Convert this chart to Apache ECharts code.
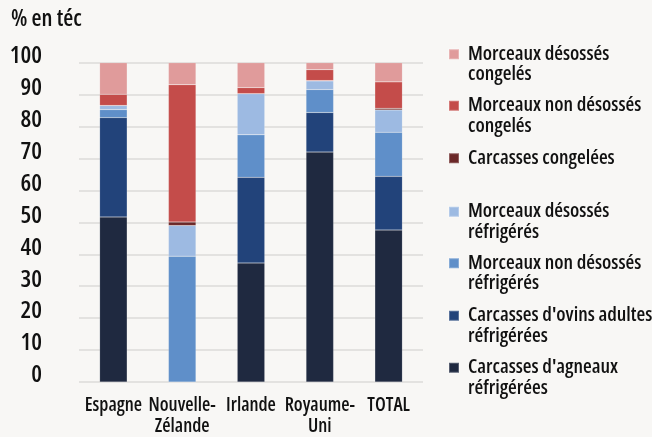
<!DOCTYPE html>
<html><head><meta charset="utf-8">
<script src="https://cdn.jsdelivr.net/npm/echarts@6/dist/echarts.min.js"></script>
<style>html,body{margin:0;padding:0;background:#f8f7f5}#c{width:652px;height:437px}</style>
</head><body><div id="c"></div>
<script>
const categories = ['Espagne', 'Nouvelle-\nZélande', 'Irlande', 'Royaume-\nUni', 'TOTAL'];
const yTicks = [0, 10, 20, 30, 40, 50, 60, 70, 80, 90, 100];
const carcassesAgneauxRefr = [51.7, 0, 37.3, 72.0, 47.6];
const carcassesOvinsRefr   = [31.1, 0, 26.8, 12.4, 16.8];
const morceauxNonDesRefr   = [2.5, 39.4, 13.3, 7.2, 13.8];
const morceauxDesRefr      = [1.3, 9.6, 12.9, 2.7, 7.0];
const carcassesCong        = [0, 1.1, 0, 0.1, 0.5];
const morceauxNonDesCong   = [3.5, 43.0, 1.9, 3.4, 8.3];
const morceauxDesCong      = [9.9, 6.9, 7.8, 2.2, 6.0];

const FONT = "'Open Sans', sans-serif";
const STRETCH = 'condensed';
const WEIGHT = 600;
const TXT = '#111';
const seriesDefs = [
  {name: "Carcasses d'agneaux\nréfrigérées", data: carcassesAgneauxRefr, color: '#1f2940'},
  {name: "Carcasses d'ovins adultes\nréfrigérées", data: carcassesOvinsRefr, color: '#22437a'},
  {name: 'Morceaux non désossés\nréfrigérés', data: morceauxNonDesRefr, color: '#5f8fc9'},
  {name: 'Morceaux désossés\nréfrigérés', data: morceauxDesRefr, color: '#9dbae2'},
  {name: 'Carcasses congelées', data: carcassesCong, color: '#6b2828'},
  {name: 'Morceaux non désossés\ncongelés', data: morceauxNonDesCong, color: '#c44c4a'},
  {name: 'Morceaux désossés\ncongelés', data: morceauxDesCong, color: '#e09b9b'}
];
const legendOrder = [6, 5, 4, 3, 2, 1, 0];
const legendIconY = [54, 105.5, 158, 211.5, 263, 315.5, 367.5];
const LH = 20.5;

const legends = legendOrder.map((si, i) => {
  const twoLine = seriesDefs[si].name.indexOf('\n') >= 0;
  return {
    orient: 'vertical', left: 448, top: legendIconY[i] - 10, padding: 0,
    itemWidth: 10, itemHeight: twoLine ? LH + 10 : 10,
    icon: twoLine ? 'path://M0,0h10v10h-10z M0,' + (LH + 10) : 'rect',
    data: [seriesDefs[si].name],
    textStyle: {fontFamily: FONT, fontStyle: STRETCH, fontWeight: WEIGHT, fontSize: 20, lineHeight: LH, color: TXT,
      padding: [0, 0, 0, 4]}
  };
});

const chart = echarts.init(document.getElementById('c'), null, {renderer: 'canvas'});
chart.setOption({
  backgroundColor: '#f8f7f5',
  animation: false,
  title: {text: '% en téc', left: 11, top: 8, padding: 0,
    textStyle: {fontFamily: FONT, fontStyle: STRETCH, fontWeight: WEIGHT, fontSize: 23, color: TXT}},
  legend: legends,
  grid: {left: 79, right: 229, top: 62.7, bottom: 54.3, containLabel: false},
  xAxis: {
    type: 'category', data: categories,
    axisLine: {show: false}, axisTick: {show: false},
    axisLabel: {fontFamily: FONT, fontStyle: STRETCH, fontWeight: WEIGHT, fontSize: 19, lineHeight: 21, color: TXT, margin: 13, interval: 0}
  },
  yAxis: {
    type: 'value', min: yTicks[0], max: yTicks[yTicks.length - 1], interval: 10,
    axisLine: {show: false}, axisTick: {show: false},
    splitLine: {lineStyle: {color: '#e3e2e0', width: 2}},
    axisLabel: {fontFamily: FONT, fontStyle: STRETCH, fontWeight: WEIGHT, fontSize: 24, color: TXT, margin: 37,
      verticalAlign: 'bottom', lineHeight: 13}
  },
  series: seriesDefs.map(s => ({
    name: s.name, type: 'bar', stack: 'total', data: s.data, barWidth: '40%',
    itemStyle: {color: s.color, borderColor: 'rgba(255,255,255,0.25)', borderWidth: 0.5}
  }))
});
</script></body></html>
